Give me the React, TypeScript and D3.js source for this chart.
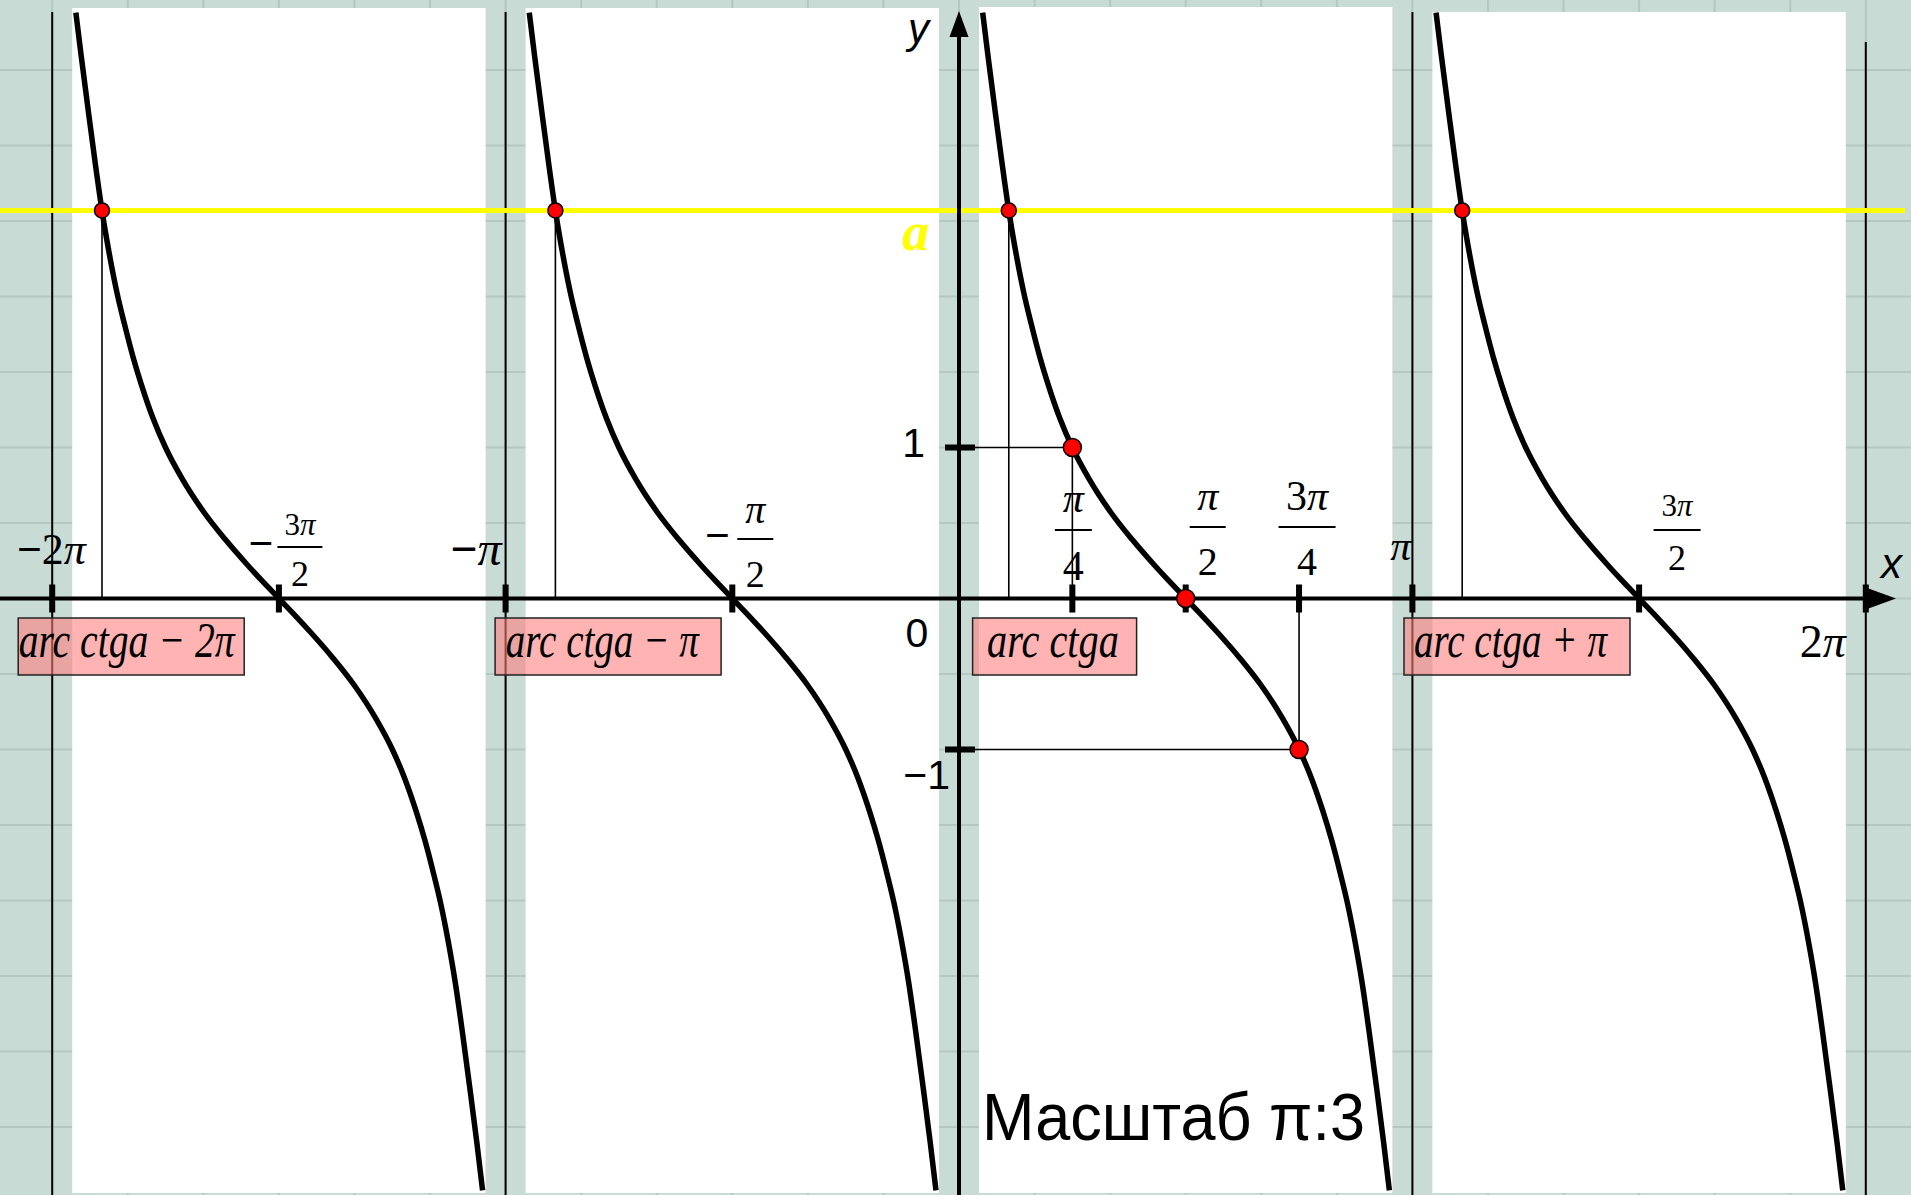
import React, { useEffect, useRef } from 'react';
import * as d3 from 'd3';

const W = 1911;
const H = 1195;

// branches of y = ctg x, start of each one in units of π
const branches = [-2, -1, 0, 1];
// one branch: x in radians from the asymptote, y value
const branchX = [0.164, 0.2, 0.25, 0.3, 0.347, 0.4, 0.45, 0.5, 0.56, 0.62, 0.7, 0.785, 0.9, 1.05, 1.2, 1.35, 1.45, 1.571,
  1.692, 1.792, 1.942, 2.092, 2.242, 2.357, 2.442, 2.522, 2.582, 2.642, 2.692, 2.742, 2.795, 2.842, 2.892, 2.942, 2.982];
const branchY = [3.88, 3.6, 3.23, 2.87, 2.556, 2.26, 2.02, 1.82, 1.6, 1.41, 1.19, 1.0, 0.794, 0.573, 0.39, 0.225, 0.121, 0,
  -0.121, -0.225, -0.39, -0.573, -0.794, -1.0, -1.19, -1.41, -1.6, -1.82, -2.02, -2.26, -2.556, -2.87, -3.23, -3.6, -3.92];

// x ticks in units of π and their labels
const xTicks = [-2, -1.5, -1, -0.5, 0.25, 0.5, 0.75, 1, 1.5, 2];
const xTickLabels = ['−2π', '−3π/2', '−π', '−π/2', 'π/4', 'π/2', '3π/4', 'π', '3π/2', '2π'];
const yTicks = [1, -1];
const yTickLabels = ['1', '−1'];

// horizontal line y = a and arcctg a (radians)
const aValue = 2.57;
const arcctgA = 0.345;
const boxLabels = ['arc ctga − 2π', 'arc ctga − π', 'arc ctga', 'arc ctga + π'];

// marked points on the middle branch (x in units of π)
const markedX = [0.25, 0.5, 0.75];
const markedY = [1, 0, -1];

const serif = "'Liberation Serif', 'Times New Roman', serif";
const sans = "'Liberation Sans', Arial, sans-serif";

// where each x tick label sits (offsets from its tick)
const xLabelLayout: any[] = [
  { dx: -1, base: 564, size: 44, anchor: 'middle' },
  { dx: 21, barY: 547, barW: 45, numBase: 535, denBase: 586, numSize: 31, denSize: 36, minusDx: -18 },
  { dx: -4, base: 565, size: 48, anchor: 'end' },
  { dx: 23, barY: 539, barW: 36, numBase: 523, denBase: 587, numSize: 40, denSize: 38, minusDx: -15 },
  { dx: 1, barY: 530, barW: 37, numBase: 512, denBase: 580, numSize: 42, denSize: 42 },
  { dx: 22, barY: 527, barW: 36, numBase: 510, denBase: 575, numSize: 42, denSize: 40 },
  { dx: 8, barY: 527, barW: 57, numBase: 510, denBase: 575, numSize: 42, denSize: 40 },
  { dx: -1, base: 560, size: 42, anchor: 'end' },
  { dx: 38, barY: 530, barW: 47, numBase: 516, denBase: 570, numSize: 31, denSize: 36 },
  { dx: -20, base: 657, size: 46, anchor: 'end' },
];

// pink boxes: offsets from the branch start
const boxLayout = [
  { x0: -34, w: 226, tx: 0.5, tw: 216 },
  { x0: -10.5, w: 226, tx: 10.7, tw: 193 },
  { x0: 13.6, w: 164, tx: 14.4, tw: 132 },
  { x0: -8.4, w: 226, tx: 10, tw: 193 },
];

// write a math string: π italic, minus bold, the rest upright
const mathText = (sel: any, str: string) => {
  str.split(/([π−])/).filter(s => s).forEach(part => {
    sel.append('tspan')
      .attr('font-style', part === 'π' ? 'italic' : 'normal')
      .attr('font-weight', part === '−' ? 'bold' : 'normal')
      .text(part);
  });
};

const App = () => {
  const ref = useRef<SVGSVGElement>(null);

  useEffect(() => {
    const svg = d3.select(ref.current);
    svg.selectAll('*').remove();

    const x = d3.scaleLinear().domain([0, Math.PI]).range([959, 1412.4]);
    const y = d3.scaleLinear().domain([0, 1]).range([598.5, 447.5]);
    const px = (k: number) => x(k * Math.PI);

    // background with grid (π/6 by 0.5)
    svg.append('rect').attr('width', W).attr('height', H).attr('fill', '#c8dbd5');
    const grid = svg.append('g').attr('stroke', '#b5c7c1').attr('stroke-width', 2);
    d3.range(-12, 13).forEach(i => {
      grid.append('line').attr('x1', px(i / 6)).attr('x2', px(i / 6)).attr('y1', 0).attr('y2', H);
    });
    d3.range(-7, 8).forEach(i => {
      grid.append('line').attr('x1', 0).attr('x2', W).attr('y1', y(i / 2)).attr('y2', y(i / 2));
    });

    // white panel behind every branch
    branches.forEach((b, i) => {
      const top = i === 3 ? 12 : i === 2 ? 7 : 8;
      svg.append('rect')
        .attr('x', px(b) + 20)
        .attr('y', top)
        .attr('width', px(b + 1) - px(b) - 40)
        .attr('height', H - top - 2)
        .attr('fill', '#ffffff');
    });

    // asymptotes
    [-2, -1, 1, 2].forEach(k => {
      svg.append('line')
        .attr('x1', px(k)).attr('x2', px(k))
        .attr('y1', k === 2 ? 42 : 12).attr('y2', H)
        .attr('stroke', '#000').attr('stroke-width', 2);
    });

    // pink boxes with arc ctg a + kπ
    branches.forEach((b, i) => {
      const L = boxLayout[i];
      const bx = px(b) + L.x0;
      svg.append('rect')
        .attr('x', bx).attr('y', 618)
        .attr('width', L.w).attr('height', 57)
        .attr('fill', '#ff7c7c').attr('fill-opacity', 0.58)
        .attr('stroke', '#222').attr('stroke-width', 1.5);
      svg.append('text')
        .attr('x', bx + L.tx).attr('y', 657)
        .attr('font-family', serif).attr('font-size', 51).attr('font-style', 'italic')
        .attr('textLength', L.tw).attr('lengthAdjust', 'spacingAndGlyphs')
        .attr('fill', '#000')
        .text(boxLabels[i]);
    });

    // drop lines from the y = a points
    branches.forEach(b => {
      svg.append('line')
        .attr('x1', x(b * Math.PI + arcctgA)).attr('x2', x(b * Math.PI + arcctgA))
        .attr('y1', y(aValue)).attr('y2', y(0))
        .attr('stroke', '#000').attr('stroke-width', 1.6);
    });

    // helper lines for ctg(π/4) = 1 and ctg(3π/4) = -1
    [0, 2].forEach(i => {
      const mx = px(markedX[i]);
      const my = y(markedY[i]);
      svg.append('line').attr('x1', x(0)).attr('x2', mx).attr('y1', my).attr('y2', my)
        .attr('stroke', '#000').attr('stroke-width', 1.6);
      svg.append('line').attr('x1', mx).attr('x2', mx).attr('y1', my).attr('y2', y(0))
        .attr('stroke', '#000').attr('stroke-width', 1.6);
    });

    // y = a
    svg.append('line')
      .attr('x1', 0).attr('x2', 1905)
      .attr('y1', y(aValue)).attr('y2', y(aValue))
      .attr('stroke', '#ffff00').attr('stroke-width', 5);

    // axes
    const y0 = y(0);
    svg.append('line').attr('x1', 0).attr('x2', 1870).attr('y1', y0).attr('y2', y0)
      .attr('stroke', '#000').attr('stroke-width', 4);
    svg.append('path')
      .attr('d', `M1896,${y0} L1863,${y0 - 12} L1863,${y0 + 12} Z`)
      .attr('fill', '#000');
    const x0 = x(0);
    svg.append('line').attr('x1', x0).attr('x2', x0).attr('y1', H).attr('y2', 30)
      .attr('stroke', '#000').attr('stroke-width', 4);
    svg.append('path')
      .attr('d', `M${x0},11 L${x0 - 9.5},37 L${x0 + 9.5},37 Z`)
      .attr('fill', '#000');

    // ticks
    xTicks.forEach(t => {
      svg.append('rect')
        .attr('x', px(t) - 3).attr('y', y0 - 14)
        .attr('width', 6).attr('height', 28)
        .attr('fill', '#000');
    });
    yTicks.forEach(t => {
      svg.append('rect')
        .attr('x', x0 - 14).attr('y', y(t) - 3)
        .attr('width', 30).attr('height', 6)
        .attr('fill', '#000');
    });

    // branches of the cotangent
    const line = d3.line<[number, number]>()
      .x(d => x(d[0]))
      .y(d => y(d[1]))
      .curve(d3.curveMonotoneX);
    branches.forEach(b => {
      const pts = branchX.map((bx, i) => [b * Math.PI + bx, branchY[i]] as [number, number]);
      svg.append('path')
        .datum(pts)
        .attr('d', line)
        .attr('fill', 'none')
        .attr('stroke', '#000')
        .attr('stroke-width', 5.5);
    });

    // red points
    branches.forEach(b => {
      svg.append('circle')
        .attr('cx', x(b * Math.PI + arcctgA)).attr('cy', y(aValue)).attr('r', 7.5)
        .attr('fill', '#ff0000').attr('stroke', '#000').attr('stroke-width', 1.5);
    });
    markedX.forEach((m, i) => {
      svg.append('circle')
        .attr('cx', px(m)).attr('cy', y(markedY[i])).attr('r', 9)
        .attr('fill', '#ff0000').attr('stroke', '#000').attr('stroke-width', 1.5);
    });

    // x tick labels
    xTickLabels.forEach((lab, i) => {
      const L = xLabelLayout[i];
      const cx = px(xTicks[i]) + L.dx;
      if (!lab.includes('/')) {
        const t = svg.append('text')
          .attr('x', cx).attr('y', L.base)
          .attr('text-anchor', L.anchor)
          .attr('font-family', serif).attr('font-size', L.size).attr('fill', '#000');
        mathText(t, lab);
        return;
      }
      const neg = lab.startsWith('−');
      const [num, den] = lab.replace('−', '').split('/');
      if (neg) {
        svg.append('text')
          .attr('x', px(xTicks[i]) + L.minusDx).attr('y', L.barY + 11)
          .attr('text-anchor', 'middle')
          .attr('font-family', serif).attr('font-size', 44).attr('font-weight', 'bold')
          .attr('fill', '#000').text('−');
      }
      const tn = svg.append('text')
        .attr('x', cx).attr('y', L.numBase)
        .attr('text-anchor', 'middle')
        .attr('font-family', serif).attr('font-size', L.numSize).attr('fill', '#000');
      mathText(tn, num);
      svg.append('line')
        .attr('x1', cx - L.barW / 2).attr('x2', cx + L.barW / 2)
        .attr('y1', L.barY).attr('y2', L.barY)
        .attr('stroke', '#000').attr('stroke-width', 1.8);
      svg.append('text')
        .attr('x', cx).attr('y', L.denBase)
        .attr('text-anchor', 'middle')
        .attr('font-family', serif).attr('font-size', L.denSize).attr('fill', '#000')
        .text(den);
    });

    // y tick labels and origin
    yTickLabels.forEach((lab, i) => {
      svg.append('text')
        .attr('x', i === 0 ? x0 - 34 : x0 - 9)
        .attr('y', y(yTicks[i]) + (i === 0 ? 9 : 39))
        .attr('text-anchor', 'end')
        .attr('font-family', sans).attr('font-size', 41).attr('fill', '#000')
        .text(lab);
    });
    svg.append('text')
      .attr('x', x0 - 42).attr('y', y0 + 48)
      .attr('text-anchor', 'middle')
      .attr('font-family', sans).attr('font-size', 41).attr('fill', '#000')
      .text('0');

    // axis names
    svg.append('text')
      .attr('x', 1881).attr('y', 578)
      .attr('font-family', sans).attr('font-style', 'italic').attr('font-size', 42)
      .attr('fill', '#000').text('x');
    svg.append('text')
      .attr('x', 929).attr('y', 43)
      .attr('text-anchor', 'end')
      .attr('font-family', sans).attr('font-style', 'italic').attr('font-size', 42)
      .attr('fill', '#000').text('y');

    // a on the y axis
    svg.append('text')
      .attr('x', 929).attr('y', 250)
      .attr('text-anchor', 'end')
      .attr('font-family', serif).attr('font-style', 'italic').attr('font-weight', 'bold')
      .attr('font-size', 54).attr('fill', '#ffff00')
      .text('a');

    // scale note
    svg.append('text')
      .attr('x', 982).attr('y', 1140)
      .attr('font-family', sans).attr('font-size', 66)
      .attr('textLength', 383).attr('lengthAdjust', 'spacingAndGlyphs')
      .attr('fill', '#000')
      .text('Масштаб π:3');
  }, []);

  return (
    <svg
      ref={ref}
      width={W}
      height={H}
      style={{ position: 'absolute', left: 0, top: 0, display: 'block' }}
    />
  );
};

export default App;
